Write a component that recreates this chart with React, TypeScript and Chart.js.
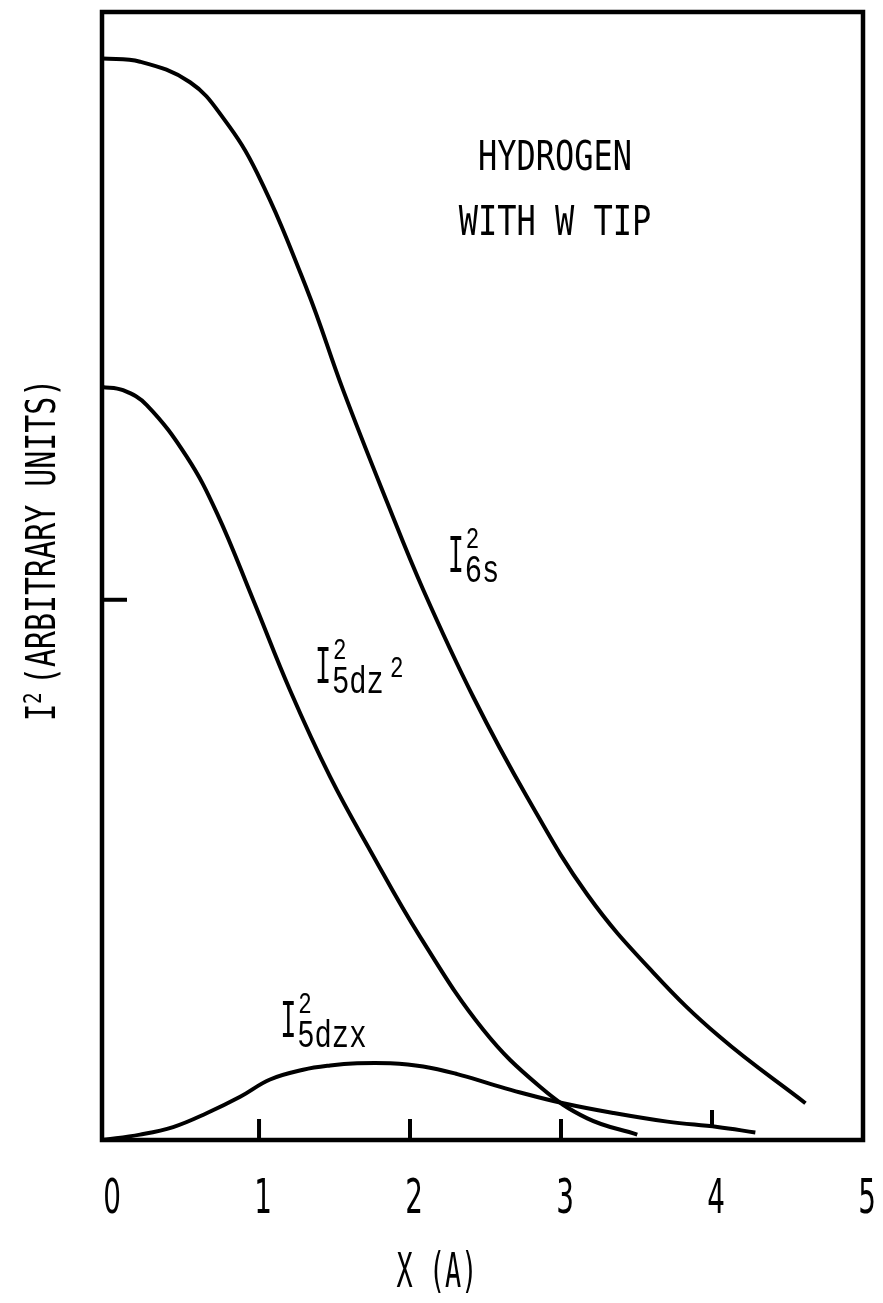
import React, { useEffect, useRef } from "react";
import { Chart, registerables } from "chart.js";

Chart.register(...registerables);

// ---- data (x in Å, y in arbitrary units) ----
const x6s = [-0.04, 0.212, 0.543, 0.762, 0.987, 1.318, 1.557, 1.849, 2.088, 2.419, 2.777, 3.175, 3.611, 4.055, 4.619];
const y6s = [10.01, 9.98, 9.79, 9.46, 8.95, 7.87, 6.94, 5.9, 5.09, 4.1, 3.17, 2.27, 1.55, 0.95, 0.34];

const x5dz2 = [-0.04, 0.099, 0.258, 0.523, 0.722, 0.961, 1.206, 1.471, 1.736, 2.067, 2.485, 2.863, 3.174, 3.505];
const y5dz2 = [6.97, 6.94, 6.8, 6.32, 5.8, 5.0, 4.16, 3.36, 2.68, 1.88, 1.02, 0.49, 0.2, 0.05];

const x5dzx = [-0.04, 0.212, 0.431, 0.656, 0.875, 1.073, 1.292, 1.471, 1.65, 1.869, 2.087, 2.313, 2.531, 2.73, 3.015, 3.346, 3.704, 4.036, 4.287];
const y5dzx = [0.0, 0.05, 0.12, 0.25, 0.4, 0.56, 0.65, 0.69, 0.71, 0.71, 0.68, 0.61, 0.52, 0.44, 0.34, 0.25, 0.17, 0.12, 0.07];

const xTickValues = [0, 1, 2, 3, 4, 5];
const xTickLabels = ["0", "1", "2", "3", "4", "5"];
const yTickValues = [5];

const X_MIN = -0.04;
const X_MAX = 5;
const Y_MIN = 0;
const Y_MAX = 10.44;

const PLOT_FONT = "'DejaVu Sans Mono', monospace";
const DIGIT_FONT = "'DejaVu Sans', sans-serif";
const LABEL_FONT = "'Liberation Mono', 'DejaVu Sans Mono', monospace";

function toPoints(xs: number[], ys: number[]) {
  return xs.map((x, i) => ({ x, y: ys[i] }));
}

function txt(
  ctx: CanvasRenderingContext2D,
  s: string,
  x: number,
  y: number,
  size: number,
  family: string,
  sx: number,
  align: CanvasTextAlign = "left",
  rot = 0
) {
  ctx.save();
  ctx.translate(x, y);
  if (rot) ctx.rotate(rot);
  ctx.scale(sx, 1);
  ctx.font = `${size}px ${family}`;
  ctx.textAlign = align;
  ctx.textBaseline = "alphabetic";
  ctx.fillStyle = "#000";
  ctx.fillText(s, 0, 0);
  ctx.restore();
}

const decorPlugin = {
  id: "decor",
  afterDraw(chart: any) {
    const ctx: CanvasRenderingContext2D = chart.ctx;
    const { left, right, top, bottom } = chart.chartArea;
    const xs = chart.scales.x;
    const ys = chart.scales.y;
    ctx.save();
    ctx.strokeStyle = "#000";
    ctx.lineWidth = 4.5;
    ctx.lineCap = "butt";
    ctx.strokeRect(left, top, right - left, bottom - top);

    // inward tick marks
    ctx.lineWidth = 4;
    xTickValues.forEach((v) => {
      if (v <= 0 || v >= 5) return;
      const px = xs.getPixelForValue(v);
      ctx.beginPath();
      if (v === 4) {
        ctx.moveTo(px, bottom - 30);
        ctx.lineTo(px, bottom - 15);
      } else {
        ctx.moveTo(px, bottom);
        ctx.lineTo(px, bottom - 21);
      }
      ctx.stroke();
    });
    yTickValues.forEach((v) => {
      const py = ys.getPixelForValue(v);
      ctx.beginPath();
      ctx.moveTo(left, py);
      ctx.lineTo(left + 25, py);
      ctx.stroke();
    });

    // tick labels
    xTickValues.forEach((v, i) => {
      const px = xs.getPixelForValue(v) + 4;
      txt(ctx, xTickLabels[i], px, bottom + 73, 48, DIGIT_FONT, 0.58, "center");
    });

    // axis titles
    txt(ctx, "X (A)", 437, 1287, 48, PLOT_FONT, 0.56, "center");
    const rot = -Math.PI / 2;
    txt(ctx, "I", 55, 721, 41, PLOT_FONT, 0.7, "left", rot);
    txt(ctx, "2", 41, 704, 24, PLOT_FONT, 0.8, "left", rot);
    txt(ctx, "(ARBITRARY UNITS)", 55, 685, 41, PLOT_FONT, 0.73, "left", rot);

    // in-plot annotation
    const hx = xs.getPixelForValue(2.96);
    txt(ctx, "HYDROGEN", hx, ys.getPixelForValue(8.98), 41, PLOT_FONT, 0.78, "center");
    txt(ctx, "WITH W TIP", hx, ys.getPixelForValue(8.38), 41, PLOT_FONT, 0.78, "center");

    // curve labels
    const curveLabel = (xv: number, yv: number, sub: string, extra?: boolean) => {
      const px = xs.getPixelForValue(xv);
      const py = ys.getPixelForValue(yv);
      txt(ctx, "I", px, py, 54, LABEL_FONT, 0.5);
      txt(ctx, "2", px + 18, py - 24, 30, LABEL_FONT, 0.75);
      txt(ctx, sub, px + 17, py + 10, 39, LABEL_FONT, 0.74);
      if (extra) txt(ctx, "2", px + 75, py - 6, 30, LABEL_FONT, 0.75);
    };
    curveLabel(2.25, 5.26, "6s");
    curveLabel(1.37, 4.23, "5dz", true);
    curveLabel(1.14, 0.95, "5dzx");
    ctx.restore();
  },
};

export default function App() {
  const ref = useRef<HTMLCanvasElement | null>(null);
  useEffect(() => {
    if (!ref.current) return;
    const common = {
      borderColor: "#000",
      borderWidth: 4,
      pointRadius: 0,
      fill: false,
      tension: 0.4,
    };
    const chart = new Chart(ref.current, {
      type: "line",
      data: {
        datasets: [
          { ...common, label: "I² 6s", data: toPoints(x6s, y6s) },
          { ...common, label: "I² 5dz²", data: toPoints(x5dz2, y5dz2) },
          { ...common, label: "I² 5dzx", data: toPoints(x5dzx, y5dzx) },
        ],
      },
      options: {
        animation: false,
        responsive: false,
        devicePixelRatio: 1,
        layout: { padding: { left: 0, right: 20, top: 12, bottom: 0 } },
        plugins: { legend: { display: false }, tooltip: { enabled: false } },
        scales: {
          x: {
            type: "linear",
            min: X_MIN,
            max: X_MAX,
            grid: { display: false },
            border: { display: false },
            ticks: { display: false },
            afterBuildTicks: (s: any) => {
              s.ticks = xTickValues.map((v) => ({ value: v }));
            },
            afterFit: (s: any) => {
              s.height = 163;
            },
          },
          y: {
            type: "linear",
            min: Y_MIN,
            max: Y_MAX,
            grid: { display: false },
            border: { display: false },
            ticks: { display: false },
            afterBuildTicks: (s: any) => {
              s.ticks = yTickValues.map((v) => ({ value: v }));
            },
            afterFit: (s: any) => {
              s.width = 102;
            },
          },
        },
      },
      plugins: [decorPlugin],
    });
    return () => chart.destroy();
  }, []);
  return (
    <div style={{ position: "absolute", left: 0, top: 0, width: 883, height: 1303, background: "#fff" }}>
      <canvas ref={ref} width={883} height={1303} style={{ display: "block" }} />
    </div>
  );
}
